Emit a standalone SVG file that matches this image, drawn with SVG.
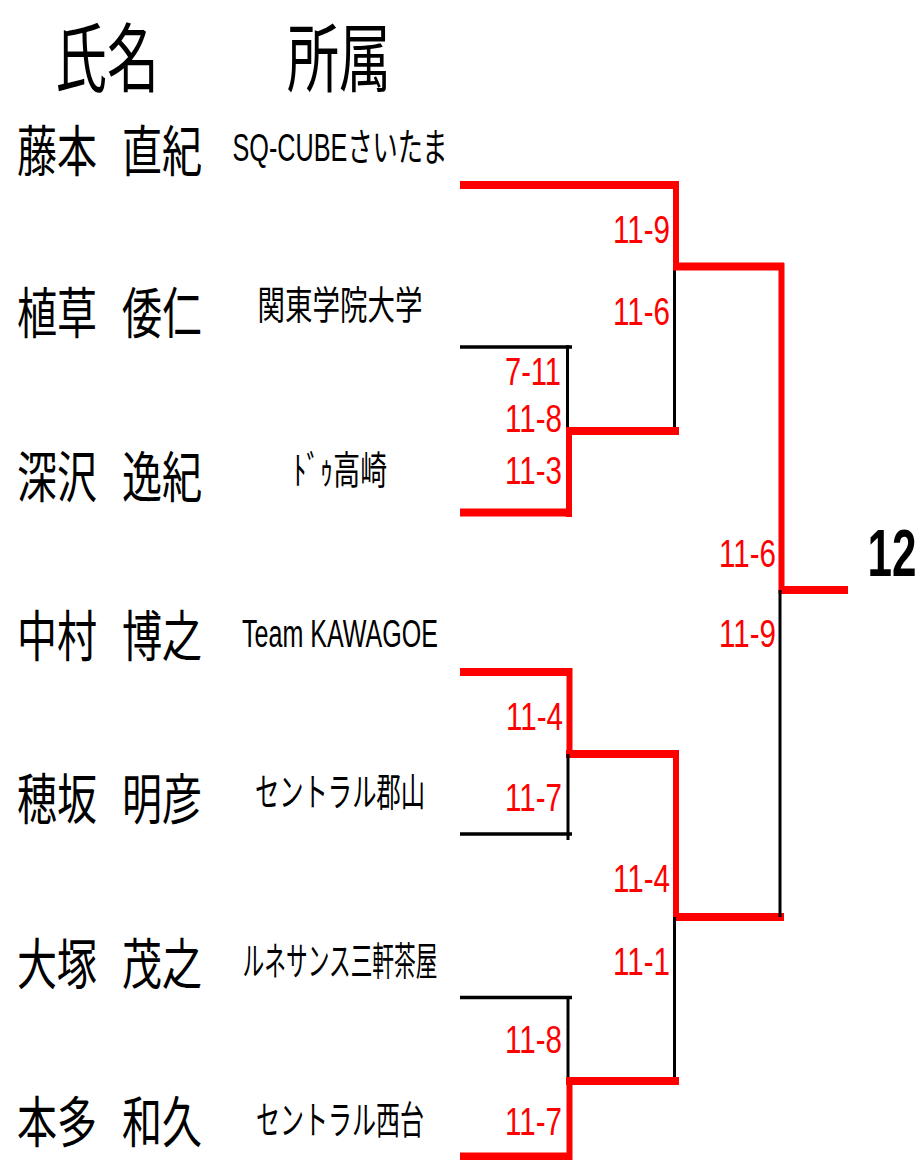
<svg xmlns="http://www.w3.org/2000/svg" width="921" height="1160" viewBox="0 0 921 1160">
<style>
text{dominant-baseline:central}
.hd{font-family:"Noto Sans CJK JP",sans-serif;font-size:52px;fill:#000;text-anchor:middle}
.nm{font-family:"Noto Sans CJK JP",sans-serif;font-size:40px;fill:#000}
.af{font-family:"Liberation Sans","Noto Sans CJK JP",sans-serif;font-size:26px;fill:#000;text-anchor:middle}
.sc{font-family:"Liberation Sans",sans-serif;font-size:28px;fill:#f00;text-anchor:end}
.fin{font-family:"Liberation Sans",sans-serif;font-size:44px;font-weight:bold;fill:#000;text-anchor:middle}
.rh{stroke:#f00;stroke-width:8}
.rv{stroke:#f00;stroke-width:6}
.bh{stroke:#000;stroke-width:3.5}
.bv{stroke:#000;stroke-width:3}
</style>
<g id="header">
<text class="hd" transform="translate(107 53) scale(1 1.45)">氏名</text>
<text class="hd" transform="translate(339 53) scale(1 1.45)">所属</text>
</g>
<g id="connectors">
<line class="rh" x1="460" y1="185" x2="679" y2="185"/>
<line class="rv" x1="676" y1="181" x2="676" y2="270"/>
<line class="bv" x1="674.5" y1="266" x2="674.5" y2="431"/>
<line class="rh" x1="673" y1="266.5" x2="784" y2="266.5"/>
<line class="rv" x1="781.5" y1="263" x2="781.5" y2="594"/>
<line class="rh" x1="779" y1="590" x2="848" y2="590"/>
<line class="bh" x1="460" y1="347" x2="572" y2="347"/>
<line class="bv" x1="567.5" y1="345" x2="567.5" y2="431"/>
<line class="rh" x1="566" y1="431" x2="679" y2="431"/>
<line class="rv" x1="569" y1="427" x2="569" y2="517"/>
<line class="rh" x1="460" y1="512.5" x2="572" y2="512.5"/>
<line class="rh" x1="460" y1="672" x2="572" y2="672"/>
<line class="rv" x1="569.5" y1="668" x2="569.5" y2="758"/>
<line class="rh" x1="566" y1="754" x2="679" y2="754"/>
<line class="bv" x1="568" y1="754" x2="568" y2="840"/>
<line class="bh" x1="460" y1="834" x2="572" y2="834"/>
<line class="rv" x1="676" y1="750" x2="676" y2="921"/>
<line class="rh" x1="673" y1="917" x2="784" y2="917"/>
<line class="bv" x1="780" y1="590" x2="780" y2="917"/>
<line class="bv" x1="674.5" y1="917" x2="674.5" y2="1081"/>
<line class="bh" x1="460" y1="997.5" x2="572" y2="997.5"/>
<line class="bv" x1="568" y1="997" x2="568" y2="1081"/>
<line class="rh" x1="566" y1="1081" x2="679" y2="1081"/>
<line class="rv" x1="569.5" y1="1077" x2="569.5" y2="1160"/>
<line class="rh" x1="460" y1="1156.5" x2="572" y2="1156.5"/>
</g>
<g id="scores">
<text class="sc" transform="translate(670 229) scale(1 1.4)" textLength="57" lengthAdjust="spacingAndGlyphs">11-9</text>
<text class="sc" transform="translate(670 311) scale(1 1.4)" textLength="57" lengthAdjust="spacingAndGlyphs">11-6</text>
<text class="sc" transform="translate(561 371) scale(1 1.4)" textLength="56" lengthAdjust="spacingAndGlyphs">7-11</text>
<text class="sc" transform="translate(562 418) scale(1 1.4)" textLength="57" lengthAdjust="spacingAndGlyphs">11-8</text>
<text class="sc" transform="translate(562 470) scale(1 1.4)" textLength="57" lengthAdjust="spacingAndGlyphs">11-3</text>
<text class="sc" transform="translate(776 553) scale(1 1.4)" textLength="57" lengthAdjust="spacingAndGlyphs">11-6</text>
<text class="sc" transform="translate(776 633) scale(1 1.4)" textLength="57" lengthAdjust="spacingAndGlyphs">11-9</text>
<text class="sc" transform="translate(563 716) scale(1 1.4)" textLength="57" lengthAdjust="spacingAndGlyphs">11-4</text>
<text class="sc" transform="translate(562 797) scale(1 1.4)" textLength="57" lengthAdjust="spacingAndGlyphs">11-7</text>
<text class="sc" transform="translate(670 878) scale(1 1.4)" textLength="57" lengthAdjust="spacingAndGlyphs">11-4</text>
<text class="sc" transform="translate(670 961) scale(1 1.4)" textLength="57" lengthAdjust="spacingAndGlyphs">11-1</text>
<text class="sc" transform="translate(562 1039) scale(1 1.4)" textLength="57" lengthAdjust="spacingAndGlyphs">11-8</text>
<text class="sc" transform="translate(562 1121) scale(1 1.4)" textLength="57" lengthAdjust="spacingAndGlyphs">11-7</text>
</g>
<g id="player1">
<text class="nm" transform="translate(17 147) scale(1 1.37)">藤本</text>
<text class="nm" transform="translate(122 147) scale(1 1.37)">直紀</text>
<text class="af" transform="translate(340 147) scale(1 1.5)" textLength="215" lengthAdjust="spacingAndGlyphs">SQ-CUBEさいたま</text>
</g>
<g id="player2">
<text class="nm" transform="translate(17 309) scale(1 1.37)">植草</text>
<text class="nm" transform="translate(122 309) scale(1 1.37)">倭仁</text>
<text class="af" transform="translate(340 305) scale(1 1.5)" textLength="165" lengthAdjust="spacingAndGlyphs">関東学院大学</text>
</g>
<g id="player3">
<text class="nm" transform="translate(17 473) scale(1 1.37)">深沢</text>
<text class="nm" transform="translate(122 473) scale(1 1.37)">逸紀</text>
<text class="af" transform="translate(340 470) scale(1 1.5)" textLength="94" lengthAdjust="spacingAndGlyphs">ﾄﾞｩ高崎</text>
</g>
<g id="player4">
<text class="nm" transform="translate(17 632) scale(1 1.37)">中村</text>
<text class="nm" transform="translate(122 632) scale(1 1.37)">博之</text>
<text class="af" transform="translate(340 633) scale(1 1.5)" textLength="196" lengthAdjust="spacingAndGlyphs">Team KAWAGOE</text>
</g>
<g id="player5">
<text class="nm" transform="translate(17 795) scale(1 1.37)">穂坂</text>
<text class="nm" transform="translate(122 795) scale(1 1.37)">明彦</text>
<text class="af" transform="translate(340 792) scale(1 1.5)" textLength="170" lengthAdjust="spacingAndGlyphs">セントラル郡山</text>
</g>
<g id="player6">
<text class="nm" transform="translate(17 960) scale(1 1.37)">大塚</text>
<text class="nm" transform="translate(122 960) scale(1 1.37)">茂之</text>
<text class="af" transform="translate(340 961) scale(1 1.5)" textLength="195" lengthAdjust="spacingAndGlyphs">ルネサンス三軒茶屋</text>
</g>
<g id="player7">
<text class="nm" transform="translate(17 1118) scale(1 1.37)">本多</text>
<text class="nm" transform="translate(122 1118) scale(1 1.37)">和久</text>
<text class="af" transform="translate(340 1120) scale(1 1.5)" textLength="168" lengthAdjust="spacingAndGlyphs">セントラル西台</text>
</g>
<g id="champion">
<text class="fin" transform="translate(892 553) scale(1 1.52)">12</text>
</g>
</svg>
